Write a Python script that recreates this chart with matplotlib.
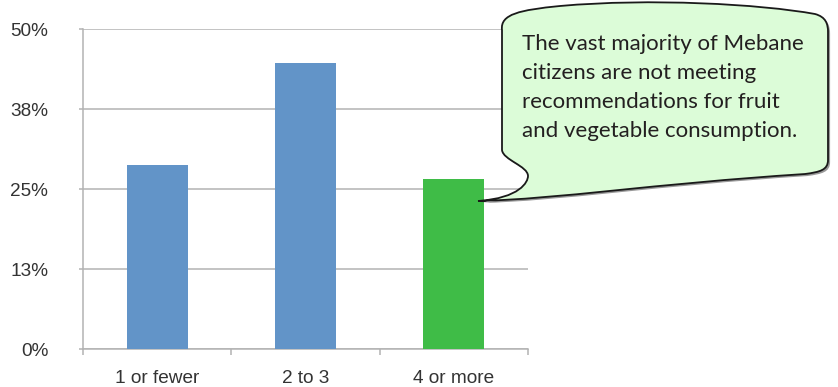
import matplotlib.pyplot as plt
from matplotlib.path import Path
from matplotlib.patches import PathPatch
import matplotlib.patheffects as pe

# servings of fruit and vegetables per day
categories = ["1 or fewer", "2 to 3", "4 or more"]
shares = [28.8, 44.7, 26.6]
bar_colors = ["#6294c8", "#6294c8", "#3fbc47"]
y_ticks = [0, 12.5, 25, 37.5, 50]
y_tick_labels = ["0%", "13%", "25%", "38%", "50%"]
callout = ("The vast majority of Mebane\n"
           "citizens are not meeting\n"
           "recommendations for fruit\n"
           "and vegetable consumption.")

W, H = 838, 387
fig = plt.figure(figsize=(W / 100, H / 100), dpi=100)
ax = fig.add_axes([83 / W, 1 - 349 / H, 445 / W, 320 / H])

x = range(len(categories))
ax.bar(x, shares, width=0.41, color=bar_colors, zorder=3)

grid_c = "#b3b3b3"
ax.set_xlim(-0.5, len(categories) - 0.5)
ax.set_ylim(0, 50)
ax.set_yticks(y_ticks)
ax.set_yticklabels(y_tick_labels)
ax.yaxis.grid(True, color=grid_c, linewidth=1.1, zorder=0)
ax.set_xticks(list(x))
ax.set_xticklabels(categories)
ax.set_xticks([i - 0.5 for i in range(len(categories) + 1)], minor=True)

for s in ["top", "right"]:
    ax.spines[s].set_visible(False)
for s in ["left", "bottom"]:
    ax.spines[s].set_color(grid_c)
    ax.spines[s].set_linewidth(1.1)

for t in ax.get_yticklabels() + ax.get_xticklabels():
    t.set_fontfamily("Liberation Sans")
    t.set_fontsize(13.7)
    t.set_color("#333333")
ax.tick_params(axis="y", length=3, color=grid_c, width=1.1, pad=22)
ax.tick_params(axis="x", which="major", length=0, pad=15)
ax.tick_params(axis="x", which="minor", length=4, color=grid_c, width=1.1)

# speech bubble drawn in pixel space over the whole figure
over = fig.add_axes([0, 0, 1, 1])
over.set_xlim(0, W)
over.set_ylim(H, 0)
over.axis("off")

verts = [
    (478, 201),
    (520, 198), (528, 182), (528, 176),
    (528, 166), (503, 160), (502, 150),
    (502, 30),
    (500, 14), (520, 10), (560, 6),
    (650, -2), (760, 4), (815, 14),
    (826, 17), (828, 24), (828, 32),
    (828, 160),
    (828, 170), (820, 172), (805, 174),
    (650, 184), (560, 199), (478, 201),
    (478, 201),
]
codes = [Path.MOVETO,
         Path.CURVE4, Path.CURVE4, Path.CURVE4,
         Path.CURVE4, Path.CURVE4, Path.CURVE4,
         Path.LINETO,
         Path.CURVE4, Path.CURVE4, Path.CURVE4,
         Path.CURVE4, Path.CURVE4, Path.CURVE4,
         Path.CURVE4, Path.CURVE4, Path.CURVE4,
         Path.LINETO,
         Path.CURVE4, Path.CURVE4, Path.CURVE4,
         Path.CURVE4, Path.CURVE4, Path.CURVE4,
         Path.CLOSEPOLY]
bubble = PathPatch(Path(verts, codes), facecolor="#dcfcd8",
                   edgecolor="#1a1a1a", linewidth=1.3)
bubble.set_path_effects([pe.SimplePatchShadow(offset=(1.5, -1.5),
                                              shadow_rgbFace="#555555", alpha=0.6),
                         pe.Normal()])
over.add_patch(bubble)
over.text(522, 34, callout, ha="left", va="top", fontsize=16,
          family="Lato", color="#231f20", linespacing=1.56)

fig.savefig("out.png", dpi=100)
